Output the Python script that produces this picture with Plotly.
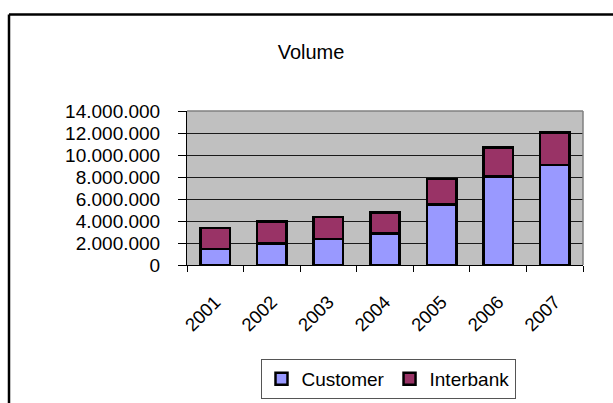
import plotly.graph_objects as go

years = ["2001", "2002", "2003", "2004", "2005", "2006", "2007"]
customer = [1450000, 1940000, 2360000, 2850000, 5480000, 8060000, 9090000]
interbank = [1910000, 2030000, 2000000, 1940000, 2340000, 2610000, 2940000]
y_ticks = [0, 2000000, 4000000, 6000000, 8000000, 10000000, 12000000, 14000000]

FONT = "Liberation Sans, Arial, sans-serif"

fig = go.Figure()
fig.add_trace(go.Bar(x=years, y=customer, name="Customer",
                     marker=dict(color="#9999FF", line=dict(color="black", width=2.5)),
                     width=0.52))
fig.add_trace(go.Bar(x=years, y=interbank, name="Interbank",
                     marker=dict(color="#993366", line=dict(color="black", width=2.5)),
                     width=0.52))

# plot area: x 187..583, y 111..265 px
L, R, T, B = 187, 583, 111, 265
W, H = R - L, B - T
FW, FH = 613, 403

def px_x(p):
    return (p - L) / W

def px_y(p):
    return (B - p) / H

fig.update_layout(
    width=FW, height=FH,
    margin=dict(l=L, r=FW - R, t=T, b=FH - B, pad=0),
    paper_bgcolor="white", plot_bgcolor="#C0C0C0",
    barmode="stack",
    separators=",.",
    font=dict(family=FONT, size=18, color="black"),
    title=dict(text="Volume", x=311 / FW, xanchor="center", y=1 - 52 / FH, yanchor="middle",
               font=dict(family=FONT, size=20, color="black")),
    xaxis=dict(type="category", showgrid=False, showline=True, linecolor="black", linewidth=1,
               ticks="outside", tickson="boundaries", ticklen=6, tickcolor="black",
               tickangle=-45, tickfont=dict(size=18.5), zeroline=False,
               ticklabelstandoff=18, automargin=False),
    yaxis=dict(range=[0, 14000000], tickvals=y_ticks, tickformat=",d",
               showgrid=True, gridcolor="#1a1a1a", gridwidth=1,
               showline=True, linecolor="black", linewidth=1,
               ticks="outside", ticklen=8, tickcolor="black",
               ticklabelstandoff=14,
               tickfont=dict(size=19), zeroline=False, automargin=False),
    legend=dict(orientation="h", xref="container", yref="container",
                x=388 / FW, xanchor="center", y=1 - 359 / FH, yanchor="top",
                bordercolor="#555555", borderwidth=1, bgcolor="white",
                font=dict(family=FONT, size=19, color="black"), traceorder="normal"),
    showlegend=True,
    shapes=[
        # gray top/right border of plot area
        dict(type="line", xref="paper", yref="paper", x0=0, x1=1, y0=1, y1=1,
             line=dict(color="#808080", width=1.5)),
        dict(type="line", xref="paper", yref="paper", x0=1, x1=1, y0=0, y1=1,
             line=dict(color="#808080", width=1.5)),
        # outer chart frame (left and top edges only visible)
        dict(type="line", xref="paper", yref="paper",
             x0=px_x(9), x1=px_x(9), y0=px_y(420), y1=px_y(14.5),
             line=dict(color="black", width=2.5)),
        dict(type="line", xref="paper", yref="paper",
             x0=px_x(9), x1=px_x(630), y0=px_y(14.5), y1=px_y(14.5),
             line=dict(color="black", width=2.5)),
    ],
)

fig.write_html("out.html", config={"displayModeBar": False},
               post_script="document.body.style.margin='0';"
                           "document.body.style.overflow='hidden';"
                           "document.documentElement.style.overflow='hidden';")
